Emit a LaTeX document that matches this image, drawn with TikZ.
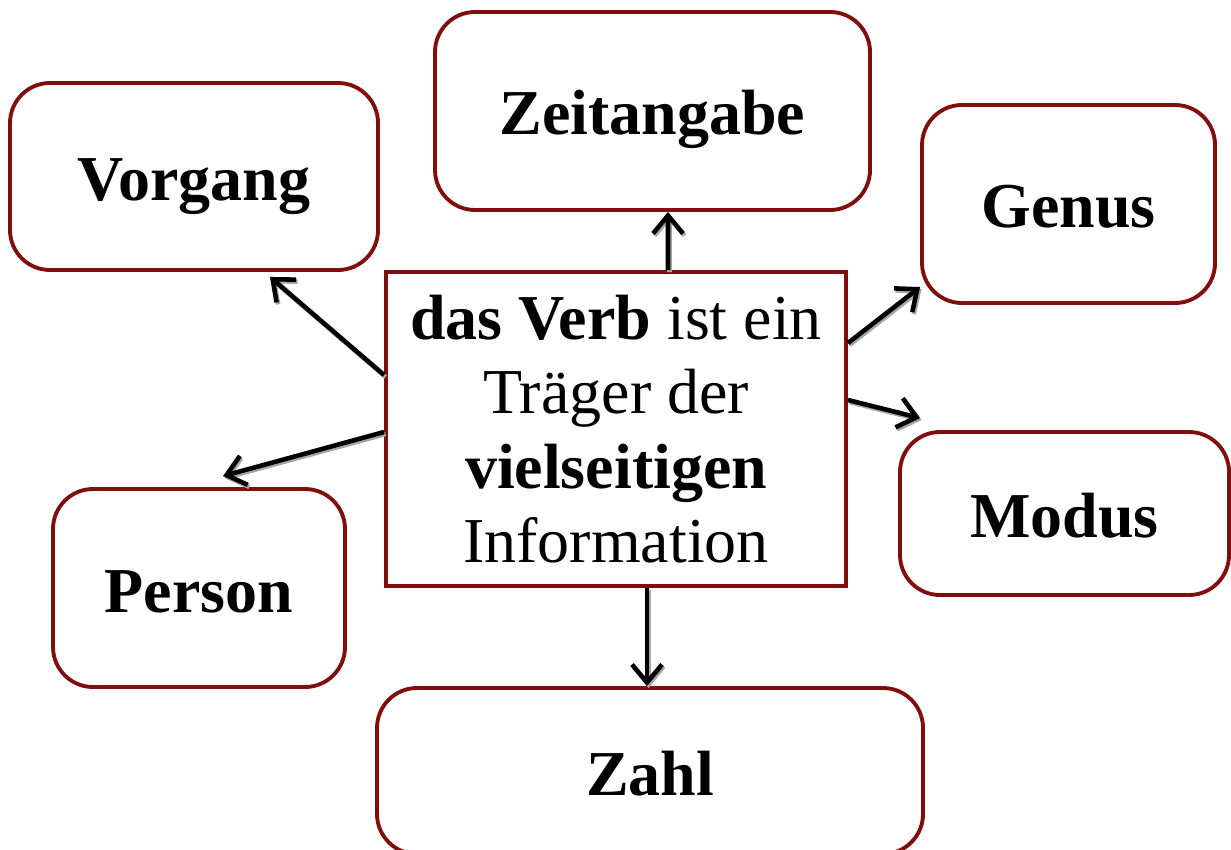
\documentclass[tikz,border=0pt]{standalone}
\usepackage{fontspec}
\setmainfont{Liberation Serif}
\usetikzlibrary{arrows.meta}
\definecolor{boxred}{RGB}{128,14,14}
\tikzset{
  topic/.style={draw=boxred, line width=1.1pt, rounded corners=0.4cm, align=center,
    font=\fontsize{18.2}{21.2}\selectfont\bfseries, text height=0.48cm, text depth=0cm, inner sep=0pt},
  centerbox/.style={draw=boxred, line width=1.1pt, align=center,
    font=\fontsize{18.2}{21.2}\selectfont, inner sep=0pt},
  arr/.style={draw=black, line width=1.3pt, -{Straight Barb[length=1.8mm,width=3mm]},
    preaction={draw=black!35, line width=1.3pt, transform canvas={shift={(0.015,-0.02)}}}}
}
\begin{document}
\begin{tikzpicture}
\clip (0,0) rectangle (12.31,-8.49);
\fill[white] (0,0) rectangle (12.31,-8.49);
\node[topic, minimum width=3.68cm, minimum height=1.87cm] (vorgang) at (1.94,-1.765) {Vorgang};
\node[topic, minimum width=4.35cm, minimum height=1.98cm] (zeit) at (6.525,-1.11) {Zeitangabe};
\node[topic, minimum width=2.93cm, minimum height=1.98cm] (genus) at (10.685,-2.04) {Genus};
\node[topic, minimum width=3.29cm, minimum height=1.63cm] (modus) at (10.645,-5.135) {Modus};
\node[topic, minimum width=2.92cm, minimum height=1.98cm] (person) at (1.99,-5.88) {Person};
\node[topic, minimum width=5.46cm, minimum height=1.66cm] (zahl) at (6.50,-7.71) {Zahl};
\node[centerbox, minimum width=4.60cm, minimum height=3.14cm] (verb) at (6.16,-4.29)
  {\textbf{das Verb} ist ein\\Träger der\\\textbf{vielseitigen}\\Information};
\draw[arr] ([xshift=0.52cm]verb.north) -- ([xshift=0.155cm]zeit.south);
\draw[arr] ([yshift=0.54cm]verb.west) -- ([xshift=0.76cm,yshift=-0.05cm]vorgang.south);
\draw[arr] ([yshift=0.86cm]verb.east) -- ([yshift=-0.83cm]genus.west);
\draw[arr] ([yshift=0.29cm]verb.east) -- ([xshift=0.22cm,yshift=0.12cm]modus.north west);
\draw[arr] ([yshift=-0.03cm]verb.west) -- ([xshift=0.24cm,yshift=0.11cm]person.north);
\draw[arr] ([xshift=0.31cm]verb.south) -- ([xshift=-0.03cm]zahl.north);
\end{tikzpicture}
\end{document}
